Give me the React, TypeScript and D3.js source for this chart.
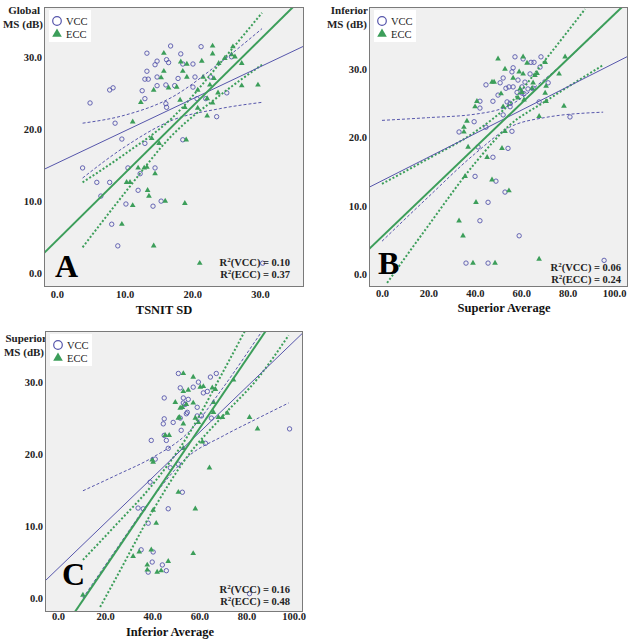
import React, { useRef, useEffect } from 'react';
import * as d3 from 'd3';

type Pt = [number, number];

const VCC_COLOR = '#5656ab';
const ECC_COLOR = '#3c9e5a';
const FONT = '"Liberation Serif", "Times New Roman", serif';

// Panel A: TSNIT SD vs Global MS
const aVcc: Pt[] = [
  [4.9, 23.6], [7.8, 25.4], [8.3, 25.7], [8.6, 20.8], [9.6, 18.6], [12.6, 25.3], [13.0, 24.2],
  [13.3, 30.5], [13.3, 28.0], [13.0, 26.9], [13.5, 26.9], [14.5, 28.9], [14.8, 29.4], [14.8, 27.2],
  [14.8, 26.0], [13.0, 18.0], [16.8, 31.5], [21.3, 31.4], [18.3, 30.4], [16.2, 29.6], [16.5, 29.2],
  [18.6, 29.0], [20.1, 29.0], [17.9, 27.0], [20.4, 27.2], [22.7, 27.2], [16.1, 26.1], [17.4, 26.0],
  [20.1, 25.8], [25.8, 30.0], [25.1, 25.0], [20.7, 24.2], [22.0, 24.2], [16.1, 23.5], [16.2, 23.0],
  [23.6, 21.7], [18.6, 18.5], [3.8, 14.6], [5.9, 12.6], [7.8, 12.6], [6.5, 10.7], [10.5, 14.6],
  [12.3, 13.8], [12.0, 11.5], [14.5, 14.6], [10.2, 9.6], [14.2, 9.3], [8.1, 6.8], [9.0, 3.8],
  [15.4, 10.0], [30.4, 1.4],
];
const aEcc: Pt[] = [
  [11.2, 21.0], [12.4, 23.7], [14.3, 25.4], [14.0, 18.7], [15.8, 30.5], [23.0, 31.5], [23.0, 30.4],
  [26.0, 31.4], [25.8, 30.3], [26.3, 30.0], [18.3, 29.3], [19.2, 29.0], [21.4, 29.4], [23.9, 29.1],
  [24.8, 29.8], [15.8, 28.0], [18.6, 28.0], [27.3, 29.1], [15.4, 27.1], [19.2, 27.2], [21.6, 27.2],
  [23.2, 27.0], [16.5, 25.7], [17.7, 25.8], [20.8, 25.4], [22.6, 26.1], [27.3, 26.0], [29.7, 26.1],
  [23.8, 25.0], [18.2, 24.0], [22.2, 24.2], [23.0, 23.6], [18.9, 23.0], [20.8, 22.9], [22.2, 21.8],
  [19.1, 18.5], [15.1, 18.0], [12.0, 14.6], [12.9, 14.6], [13.3, 14.7], [14.5, 13.8], [10.3, 12.6],
  [10.8, 12.6], [13.4, 11.5], [13.6, 10.7], [11.2, 9.4], [9.6, 6.8], [14.3, 3.8], [16.0, 10.0],
  [18.9, 9.7], [21.1, 1.4],
];
const aVccUpper: Pt[] = [[3.8, 20.8], [10, 21.9], [17, 24.4], [24, 29.1], [30.3, 33.9]];
const aVccLower: Pt[] = [[3.8, 13.2], [10, 17.5], [17, 21.2], [24, 22.8], [30.4, 23.7]];
const aEccUpper: Pt[] = [[3.8, 12.6], [10, 16.5], [17, 21.5], [24, 29.0], [30.3, 36.1]];
const aEccLower: Pt[] = [[3.8, 3.6], [10, 11.1], [17, 19.1], [24, 24.6], [30.3, 28.9]];

// Panel B: Superior Average vs Inferior MS
const bVcc: Pt[] = [
  [33.2, 20.8], [57.3, 31.8], [60.8, 31.5], [64.2, 31.0], [65.5, 31.0], [68.5, 31.8], [68.1, 30.3],
  [56.5, 30.2], [56.0, 29.6], [52.2, 28.7], [50.9, 28.0], [44.8, 27.7], [58.6, 28.4], [61.6, 28.1],
  [63.8, 29.3], [65.1, 27.2], [71.6, 28.0], [53.4, 27.2], [54.7, 27.4], [56.5, 27.4], [58.2, 26.6],
  [60.3, 27.4], [62.9, 27.1], [50.0, 26.2], [47.8, 25.3], [53.9, 25.2], [55.2, 25.0], [60.3, 26.5],
  [61.2, 26.4], [42.2, 25.3], [42.2, 24.3], [52.2, 23.3], [55.2, 24.5], [39.7, 22.3], [44.8, 21.5],
  [67.7, 25.2], [81.0, 23.0], [56.0, 20.9], [41.4, 18.6], [54.3, 18.4], [47.8, 17.1], [40.1, 14.3],
  [49.1, 13.6], [53.0, 12.0], [45.7, 10.5], [42.2, 7.8], [59.1, 5.6], [45.7, 1.6], [95.7, 2.0],
  [36.2, 1.6],
];
const bEcc: Pt[] = [
  [35.3, 20.8], [36.6, 22.4], [35.3, 21.5], [37.1, 18.6], [50.0, 31.5], [60.8, 31.8], [62.5, 30.9],
  [70.3, 31.0], [78.9, 31.8], [53.0, 30.0], [59.1, 29.6], [60.8, 29.3], [66.8, 29.4], [65.9, 29.1],
  [47.4, 28.1], [48.3, 28.1], [56.5, 28.7], [65.1, 28.0], [76.3, 29.3], [59.5, 27.1], [60.3, 26.6],
  [64.7, 27.2], [70.7, 27.5], [51.3, 26.4], [58.6, 25.8], [61.2, 25.5], [70.3, 26.5], [40.9, 25.3],
  [40.1, 24.5], [52.2, 24.5], [70.7, 25.3], [78.4, 24.6], [67.7, 23.1], [53.0, 20.9], [51.7, 18.4],
  [45.3, 17.1], [47.4, 13.8], [54.7, 12.2], [40.5, 10.5], [39.2, 1.6], [48.7, 1.6], [67.7, 2.2],
  [33.2, 7.8], [34.9, 5.6], [35.8, 14.3],
];
const bVccUpper: Pt[] = [[0, 22.5], [20, 22.9], [40, 23.4], [55, 24.7], [70, 28.5], [95.3, 36.4]];
const bVccLower: Pt[] = [[0, 4.8], [20, 11.3], [40, 17.6], [55, 21.5], [70, 22.9], [95.3, 23.7]];
const bEccUpper: Pt[] = [[0, 13.2], [20, 16.9], [40, 20.8], [55, 24.9], [70, 31.2], [87.5, 38.8]];
const bEccLower: Pt[] = [[2.2, -1.3], [20, 7.1], [40, 16.2], [55, 21.8], [70, 25.2], [95.3, 30.6]];

// Panel C: Inferior Average vs Superior MS
const cVcc: Pt[] = [
  [39.6, 21.9], [41.3, 19.3], [51.1, 31.2], [64.7, 30.7], [67.2, 31.2], [59.6, 30.0], [57.4, 29.3],
  [51.9, 29.2], [61.7, 28.5], [63.4, 28.7], [45.1, 27.8], [53.2, 27.8], [55.3, 27.6], [53.2, 27.1],
  [54.0, 26.9], [59.1, 26.5], [54.9, 25.8], [54.5, 25.6], [59.1, 25.3], [60.9, 25.3], [65.1, 25.0],
  [45.1, 24.9], [44.7, 24.2], [48.9, 24.4], [51.9, 25.0], [52.3, 23.3], [45.1, 22.6], [46.0, 21.9],
  [46.8, 20.8], [62.6, 21.5], [98.3, 23.5], [47.7, 18.1], [51.1, 18.6], [39.1, 16.1], [34.0, 12.5],
  [36.2, 12.4], [38.3, 10.4], [35.3, 6.7], [40.4, 6.4], [40.0, 5.0], [38.3, 3.6], [52.8, 14.7],
  [46.8, 12.4], [44.3, 4.6], [46.0, 3.8], [81.3, 0.6],
];
const cEcc: Pt[] = [
  [40.0, 19.2], [53.2, 31.2], [57.4, 30.7], [60.4, 29.3], [61.7, 29.4], [53.2, 28.7], [55.3, 28.9],
  [65.5, 29.2], [66.8, 29.0], [49.8, 27.2], [51.9, 26.4], [52.8, 26.5], [54.5, 26.9], [57.4, 27.1],
  [66.0, 27.2], [51.5, 25.1], [51.1, 25.0], [58.3, 25.0], [74.5, 30.3], [53.2, 24.2], [59.6, 24.4],
  [68.1, 25.1], [69.8, 25.1], [71.9, 25.7], [66.0, 25.8], [81.3, 25.1], [84.7, 23.5], [45.5, 22.6],
  [47.2, 22.6], [61.3, 21.7], [53.2, 20.8], [40.4, 18.9], [64.3, 18.1], [40.4, 12.2], [41.7, 10.4],
  [34.5, 6.4], [39.6, 6.7], [31.9, 5.8], [37.9, 4.6], [37.9, 3.9], [42.1, 3.6], [10.6, 0.4],
  [51.1, 14.7], [58.3, 12.4], [57.4, 6.2], [46.8, 5.1], [43.8, 3.8],
];
const cVccUpper: Pt[] = [[10.6, 14.9], [25, 17.1], [40, 19.5], [55, 22.9], [70, 29.2], [85, 36.3], [97.9, 42.5]];
const cVccLower: Pt[] = [[10.6, 0.0], [25, 6.9], [40, 13.9], [55, 19.6], [70, 22.5], [85, 25.0], [97.9, 27.1]];
const cEccUpper: Pt[] = [[10.6, 5.3], [25, 10.3], [40, 15.7], [55, 22.5], [70, 31.4], [85, 40.6]];
const cEccLower: Pt[] = [[17.9, -1.25], [25, 3.0], [40, 12.0], [55, 19.7], [70, 25.3], [85, 30.6], [97.9, 36.5]];

// fit lines: [intercept, slope]
const aFit = { vcc: [15.25, 0.445], ecc: [4.56, 0.927] };
const bFit = { vcc: [13.66, 0.172], ecc: [5.48, 0.325] };
const cFit = { vcc: [4.1, 0.315], ecc: [-5.4, 0.482] };

const axisTicksA = [0, 10, 20, 30];
const axisTicksPct = [0, 20, 40, 60, 80, 100];

const panels = [
  {
    id: 'A', box: { left: 44, right: 304, top: 7, bottom: 287 },
    xDomain: [-1.9, 36.5], yDomain: [-1.9, 36.9], xTicks: axisTicksA, yTicks: axisTicksA, tickPad: 4,
    vcc: aVcc, ecc: aEcc, vccBand: [aVccUpper, aVccLower], eccBand: [aEccUpper, aEccLower], fit: aFit,
    xTitle: 'TSNIT SD', xTitlePos: [164, 314], yTitle: ['Global', 'MS (dB)'], yTitleX: [40, 43], yTitleY: [14, 28],
    letter: [55, 277], r2: ['0.10', '0.37'], r2Pos: [290, 266],
  },
  {
    id: 'B', box: { left: 369, right: 628, top: 7, bottom: 287 },
    xDomain: [-5.6, 106], yDomain: [-1.9, 39.1], xTicks: axisTicksPct, yTicks: axisTicksA, tickPad: 3,
    vcc: bVcc, ecc: bEcc, vccBand: [bVccUpper, bVccLower], eccBand: [bEccUpper, bEccLower], fit: bFit,
    xTitle: 'Superior Average', xTitlePos: [504, 312], yTitle: ['Inferior', 'MS (dB)'], yTitleX: [368, 367], yTitleY: [14, 28],
    letter: [378, 274], r2: ['0.06', '0.24'], r2Pos: [621, 271],
  },
  {
    id: 'C', box: { left: 45, right: 303, top: 331, bottom: 612 },
    xDomain: [-5.5, 104], yDomain: [-1.94, 37.1], xTicks: axisTicksPct, yTicks: axisTicksA, tickPad: 1,
    vcc: cVcc, ecc: cEcc, vccBand: [cVccUpper, cVccLower], eccBand: [cEccUpper, cEccLower], fit: cFit,
    xTitle: 'Inferior Average', xTitlePos: [170, 636], yTitle: ['Superior', 'MS (dB)'], yTitleX: [47, 44], yTitleY: [342, 356],
    letter: [62, 585], r2: ['0.16', '0.48'], r2Pos: [290, 593],
  },
];

const Panel = ({ cfg }: { cfg: any }) => {
  const ref = useRef<SVGGElement>(null);

  useEffect(() => {
    const g = d3.select(ref.current);
    g.selectAll('*').remove();
    const { box } = cfg;
    const w = box.right - box.left;
    const h = box.bottom - box.top;

    const x = d3.scaleLinear().domain(cfg.xDomain).range([box.left, box.right]);
    const y = d3.scaleLinear().domain(cfg.yDomain).range([box.bottom, box.top]);

    const clipId = `clip-${cfg.id}`;
    g.append('clipPath').attr('id', clipId)
      .append('rect').attr('x', box.left).attr('y', box.top).attr('width', w).attr('height', h);

    // y title first, so the plot area hides any overflow
    cfg.yTitle.forEach((t: string, i: number) => {
      g.append('text')
        .attr('x', cfg.yTitleX[i]).attr('y', cfg.yTitleY[i])
        .attr('text-anchor', 'end')
        .attr('font-family', FONT).attr('font-size', 11).attr('font-weight', 'bold')
        .attr('fill', '#222').text(t);
    });

    g.append('rect')
      .attr('x', box.left).attr('y', box.top).attr('width', w).attr('height', h)
      .attr('fill', '#f0f0f0');

    const plot = g.append('g').attr('clip-path', `url(#${clipId})`);

    // points
    plot.selectAll('circle.vcc').data(cfg.vcc).join('circle')
      .attr('class', 'vcc')
      .attr('cx', (d: any) => x(d[0])).attr('cy', (d: any) => y(d[1])).attr('r', 2.2)
      .attr('fill', 'none').attr('stroke', VCC_COLOR).attr('stroke-width', 0.9);

    const tri = d3.symbol(d3.symbolTriangle, 14)();
    plot.selectAll('path.ecc').data(cfg.ecc).join('path')
      .attr('class', 'ecc')
      .attr('d', tri)
      .attr('transform', (d: any) => `translate(${x(d[0])},${y(d[1])})`)
      .attr('fill', ECC_COLOR);

    // confidence curves
    const curve = d3.line<Pt>().x(d => x(d[0])).y(d => y(d[1])).curve(d3.curveMonotoneX);
    cfg.vccBand.forEach((band: Pt[]) => {
      plot.append('path').datum(band).attr('d', curve)
        .attr('fill', 'none').attr('stroke', VCC_COLOR).attr('stroke-width', 1)
        .attr('stroke-dasharray', '3,2');
    });
    cfg.eccBand.forEach((band: Pt[]) => {
      plot.append('path').datum(band).attr('d', curve)
        .attr('fill', 'none').attr('stroke', ECC_COLOR).attr('stroke-width', 2)
        .attr('stroke-dasharray', '2,2');
    });

    // fit lines across the whole axis range
    const fitLine = (b: number[]): Pt[] => cfg.xDomain.map((v: number) => [v, b[0] + b[1] * v]);
    const straight = d3.line<Pt>().x(d => x(d[0])).y(d => y(d[1]));
    plot.append('path').datum(fitLine(cfg.fit.vcc)).attr('d', straight)
      .attr('fill', 'none').attr('stroke', VCC_COLOR).attr('stroke-width', 1);
    plot.append('path').datum(fitLine(cfg.fit.ecc)).attr('d', straight)
      .attr('fill', 'none').attr('stroke', ECC_COLOR).attr('stroke-width', 2);

    // frame
    g.append('rect')
      .attr('x', box.left + 0.5).attr('y', box.top + 0.5).attr('width', w - 1).attr('height', h - 1)
      .attr('fill', 'none').attr('stroke', '#7a7a7a').attr('stroke-width', 1);

    // axes
    const xAxis = g.append('g').attr('transform', `translate(0,${box.bottom})`)
      .call(d3.axisBottom(x).tickValues(cfg.xTicks).tickFormat(d3.format('.1f')).tickSize(0).tickPadding(cfg.tickPad));
    const yAxis = g.append('g').attr('transform', `translate(${box.left},0)`)
      .call(d3.axisLeft(y).tickValues(cfg.yTicks).tickFormat(d3.format('.1f')).tickSize(0).tickPadding(2));
    [xAxis, yAxis].forEach(ax => {
      ax.select('.domain').remove();
      ax.selectAll('text')
        .attr('font-family', FONT).attr('font-size', 10.5).attr('font-weight', 'bold').attr('fill', '#222');
    });

    // x title
    g.append('text')
      .attr('x', cfg.xTitlePos[0]).attr('y', cfg.xTitlePos[1])
      .attr('text-anchor', 'middle')
      .attr('font-family', FONT).attr('font-size', 12.5).attr('font-weight', 'bold')
      .attr('fill', '#111').text(cfg.xTitle);

    // legend
    const lg = g.append('g').attr('transform', `translate(${box.left + 5},${box.top + 3})`);
    lg.append('rect').attr('width', 42).attr('height', 32).attr('fill', '#fff');
    lg.append('circle').attr('cx', 8).attr('cy', 11).attr('r', 4.3)
      .attr('fill', 'none').attr('stroke', VCC_COLOR).attr('stroke-width', 1.2);
    lg.append('path').attr('d', d3.symbol(d3.symbolTriangle, 40)())
      .attr('transform', 'translate(8,24)').attr('fill', ECC_COLOR);
    ['VCC', 'ECC'].forEach((t, i) => {
      lg.append('text').attr('x', 17).attr('y', 14.5 + i * 13)
        .attr('font-family', FONT).attr('font-size', 10.5).attr('fill', '#222').text(t);
    });

    // panel letter
    g.append('text')
      .attr('x', cfg.letter[0]).attr('y', cfg.letter[1])
      .attr('font-family', FONT).attr('font-size', 32).attr('font-weight', 'bold')
      .attr('fill', '#000').text(cfg.id);

    // R squared notes
    ['VCC', 'ECC'].forEach((grp, i) => {
      const t = g.append('text')
        .attr('x', cfg.r2Pos[0]).attr('y', cfg.r2Pos[1] + i * 12)
        .attr('text-anchor', 'end')
        .attr('font-family', FONT).attr('font-size', 10.5).attr('font-weight', 'bold')
        .attr('fill', '#222');
      t.append('tspan').text('R');
      t.append('tspan').attr('font-size', 7).attr('dy', -4).text('2');
      t.append('tspan').attr('dy', 4).text(`(${grp}) = ${cfg.r2[i]}`);
    });
  }, [cfg]);

  return <g ref={ref} />;
};

const App = () => (
  <svg width={632} height={639} style={{ position: 'absolute', left: 0, top: 0, background: '#fff' }}>
    {panels.map(p => <Panel key={p.id} cfg={p} />)}
  </svg>
);

export default App;
